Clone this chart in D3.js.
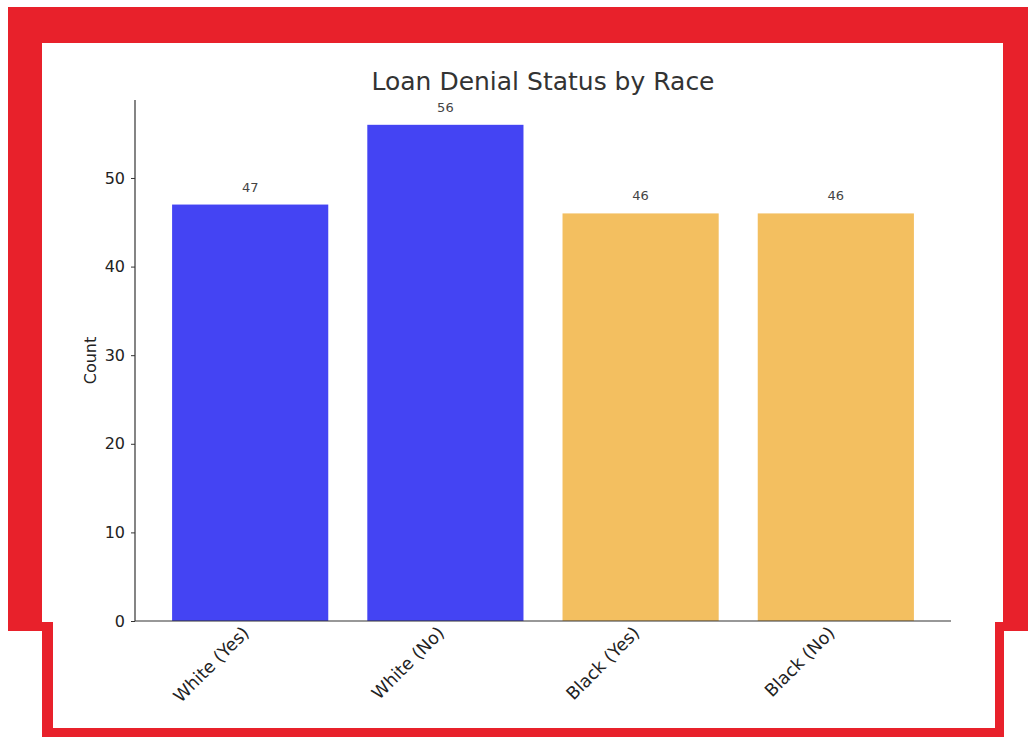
<!DOCTYPE html>
<html>
<head>
<meta charset="utf-8">
<script src="https://cdn.jsdelivr.net/npm/d3@7"></script>
<style>
  html, body { margin: 0; padding: 0; background: #ffffff; }
  svg { display: block; font-family: "DejaVu Sans", sans-serif; }
</style>
</head>
<body>
<svg id="chart" width="1028" height="737"></svg>
<script>
// Loan denial counts by race and denial status
const categories = ["White (Yes)", "White (No)", "Black (Yes)", "Black (No)"];
const counts = [47, 56, 46, 46];
const groups = ["White", "White", "Black", "Black"];
const yTicks = [0, 10, 20, 30, 40, 50];
const groupColors = { White: "#4444f3", Black: "#f3bf60" };

const svg = d3.select("#chart");
const red = "#e8212b";

// Red border: heavy frame round the chart, thin frame round the label strip
svg.append("path")
  .attr("d", "M8,7 H1028 V631 H1003 V43 H42 V631 H8 Z")
  .attr("fill", red);
svg.append("path")
  .attr("d", "M42,622 H53 V728 H995 V622 H1004 V737 H42 Z")
  .attr("fill", red);

// Plot area
const plotLeft = 135, plotRight = 951, plotTop = 100, plotBottom = 621;

const x = d3.scaleBand()
  .domain(categories)
  .range([plotLeft, plotRight])
  .paddingInner(0.2)
  .paddingOuter(0.19);

const y = d3.scaleLinear()
  .domain([0, 58.8])
  .range([plotBottom, plotTop]);

const g = svg.append("g");

// Bars
g.selectAll("rect.bar")
  .data(categories)
  .join("rect")
  .attr("class", "bar")
  .attr("x", d => x(d))
  .attr("width", x.bandwidth())
  .attr("y", (d, i) => y(counts[i]))
  .attr("height", (d, i) => y(0) - y(counts[i]))
  .attr("fill", (d, i) => groupColors[groups[i]]);

// Value labels above bars
g.selectAll("text.value")
  .data(categories)
  .join("text")
  .attr("class", "value")
  .attr("x", d => x(d) + x.bandwidth() / 2)
  .attr("y", (d, i) => y(counts[i]) - 13)
  .attr("text-anchor", "middle")
  .attr("font-size", 13)
  .attr("fill", "#444")
  .text((d, i) => counts[i]);

// Y axis
const yAxis = d3.axisLeft(y).tickValues(yTicks).tickSize(4).tickPadding(6);
const ya = svg.append("g").attr("transform", `translate(${plotLeft},0)`).call(yAxis);
ya.select(".domain").attr("stroke", "#333").attr("stroke-width", 1.2).attr("d", `M0,${plotTop}V${plotBottom}`);
ya.selectAll(".tick line").attr("stroke", "#333");
ya.selectAll(".tick text").attr("font-size", 16).attr("fill", "#222").attr("font-family", "DejaVu Sans, sans-serif");

// X axis
const xAxis = d3.axisBottom(x).tickSize(0).tickPadding(0);
const xa = svg.append("g").attr("transform", `translate(0,${plotBottom})`).call(xAxis);
xa.select(".domain").attr("stroke", "#333").attr("stroke-width", 1.2).attr("d", `M${plotLeft},0H${plotRight}`);
xa.selectAll(".tick text")
  .attr("font-size", 17.5)
  .attr("fill", "#222")
  .attr("font-family", "DejaVu Sans, sans-serif")
  .attr("text-anchor", "end")
  .attr("dy", null)
  .attr("y", 0)
  .attr("transform", "translate(0,13) rotate(-45)");

// Axis title
svg.append("text")
  .attr("transform", `translate(96,${(plotTop + plotBottom) / 2}) rotate(-90)`)
  .attr("text-anchor", "middle")
  .attr("font-size", 16)
  .attr("fill", "#222")
  .text("Count");

// Chart title
svg.append("text")
  .attr("x", (plotLeft + plotRight) / 2)
  .attr("y", 90)
  .attr("text-anchor", "middle")
  .attr("font-size", 25)
  .attr("fill", "#333")
  .text("Loan Denial Status by Race");
</script>
</body>
</html>
